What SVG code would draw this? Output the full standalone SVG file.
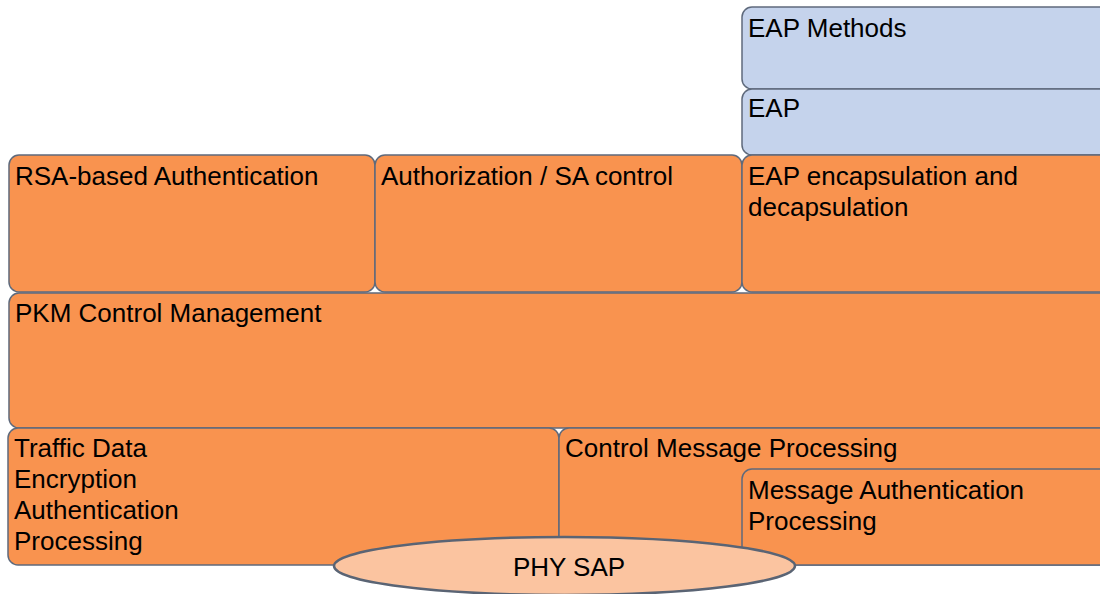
<svg xmlns="http://www.w3.org/2000/svg" width="1100" height="594" viewBox="0 0 1100 594">
<style>
.o{fill:#F9934F;stroke:#5F6A7C;stroke-width:1.5}
.b{fill:#C5D3EC;stroke:#5F6A7C;stroke-width:1.5}
.e{fill:#FBC4A0;stroke:#5A6474;stroke-width:2.5}
text{font-family:"Liberation Sans",Arial,sans-serif;font-size:26px;fill:#000}
</style>
<rect width="1100" height="594" fill="#fff"/>
<g id="eap-methods"><rect class="b" x="742" y="7" width="380" height="82" rx="10"/><text x="748" y="37">EAP Methods</text></g>
<g id="eap"><rect class="b" x="742" y="89" width="380" height="66" rx="10"/><text x="748" y="117">EAP</text></g>
<g id="rsa"><rect class="o" x="9" y="155" width="366" height="137" rx="10"/><text x="15" y="185">RSA-based Authentication</text></g>
<g id="authz"><rect class="o" x="375" y="155" width="367" height="137" rx="10"/><text x="381" y="185">Authorization / SA control</text></g>
<g id="eap-encap"><rect class="o" x="742" y="155" width="380" height="137" rx="10"/><text x="748" y="185">EAP encapsulation and</text><text x="748" y="216">decapsulation</text></g>
<g id="pkm"><rect class="o" x="9" y="293" width="1113" height="135" rx="10"/><text x="15" y="322">PKM Control Management</text></g>
<g id="traffic"><rect class="o" x="8" y="428" width="551" height="137" rx="10"/><text x="14" y="457">Traffic Data</text><text x="14" y="488">Encryption</text><text x="14" y="519">Authentication</text><text x="14" y="550">Processing</text></g>
<g id="cmp"><rect class="o" x="559" y="428" width="563" height="137" rx="10"/><text x="565" y="457">Control Message Processing</text></g>
<g id="msgauth"><rect class="o" x="742" y="469" width="380" height="96" rx="10"/><text x="748" y="499">Message Authentication</text><text x="748" y="530">Processing</text></g>
<g id="phy"><ellipse class="e" cx="564.5" cy="566" rx="230.5" ry="29"/><text x="569" y="576" text-anchor="middle">PHY SAP</text></g>
<g id="connectors"></g>
</svg>
